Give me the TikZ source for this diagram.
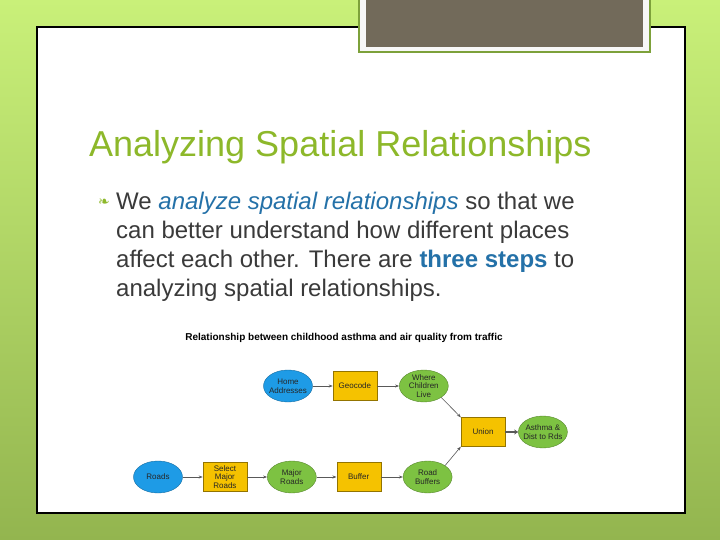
\documentclass[tikz,border=0pt]{standalone}
\usepackage{fontspec}
\setmainfont{Liberation Sans}
\newfontfamily\dejavu{DejaVu Sans}
\usepackage{tikz}
\usetikzlibrary{arrows.meta, positioning, shapes.geometric}
\definecolor{slidegreen}{HTML}{8DB82A}
\definecolor{slideblue}{HTML}{2471A8}
\definecolor{slidetext}{HTML}{3A3A3A}
\definecolor{boxgray}{HTML}{726A5A}
\definecolor{boxrim}{HTML}{7DA13A}
\definecolor{bgtop}{HTML}{C9F079}
\definecolor{bgbot}{HTML}{93B54F}
\definecolor{flowblue}{HTML}{1E9BE6}
\definecolor{flowyellow}{HTML}{F5C200}
\definecolor{flowgreen}{HTML}{7DC242}

\begin{document}
\begin{tikzpicture}[x=1pt, y=-1pt,
  node distance=20pt,
  every node/.style={font=\fontsize{8}{8.6}\selectfont, text=black!85},
  inbox/.style={ellipse, draw=#1!70!black, fill=#1, minimum width=49pt,
              minimum height=32pt, inner sep=-2.5pt, align=center},
  toolbox/.style={rectangle, draw=flowyellow!60!black, fill=flowyellow,
              minimum width=44pt, minimum height=29pt, inner sep=0pt, align=center},
  flow/.style={-{Stealth[length=4pt, width=3pt]}, draw=black!65, line width=0.6pt},
]
  \useasboundingbox (0,0) rectangle (720,540);
  \shade[top color=bgtop, bottom color=bgbot] (0,0) rectangle (720,540);

  % slide panel and the gray picture box on top
  \draw[fill=white, line width=1.2pt] (37,27) rectangle (685,513);
  \draw[boxrim, fill=black!3, line width=2pt] (359,-3) rectangle (650,52);
  \fill[boxgray] (366,-3) rectangle (643,47);

  \node[anchor=base west, inner sep=0pt, text=slidegreen,
        font=\fontsize{36}{40}\selectfont] (title) at (89,157)
    {Analyzing Spatial Relationships};
  \node[text=slidegreen, font=\dejavu\fontsize{14}{14}\selectfont] (bul) at (104,203) {❧};
  \node[anchor=north west, inner sep=0pt, align=left, text=slidetext,
        font=\fontsize{24}{29}\selectfont] (body) at (116,192)
    {We \textcolor{slideblue}{\itshape analyze spatial relationships} so that we\\
     can better understand how different places\\
     affect each other. There are \textcolor{slideblue}{\bfseries three steps} to\\
     analyzing spatial relationships.};

  \node[font=\bfseries\fontsize{10}{11}\selectfont, text=black] (cap) at (344,338)
    {Relationship between childhood asthma and air quality from traffic};

  % top row
  \node[inbox=flowblue] (home) at (288,386) {Home\\Addresses};
  \node[toolbox, right=20pt of home] (geo) {Geocode};
  \node[inbox=flowgreen, right=22pt of geo] (live) {Where\\Children\\Live};

  % join
  \node[toolbox] (union) at (483,432) {Union};
  \node[inbox=flowgreen, right=13pt of union] (asth) {Asthma \&\\Dist to Rds};

  % bottom row
  \node[inbox=flowblue] (roads) at (158,477) {Roads};
  \node[toolbox, right=20pt of roads] (sel) {Select\\Major\\Roads};
  \node[inbox=flowgreen, right=20pt of sel] (major) {Major\\Roads};
  \node[toolbox, right=20pt of major] (buf) {Buffer};
  \node[inbox=flowgreen, right=22pt of buf] (rbuf) {Road\\Buffers};

  \draw[flow] (home) -- (geo);
  \draw[flow] (geo) -- (live);
  \draw[flow] (live.south east) -- (union.north west);
  \draw[flow] (roads) -- (sel);
  \draw[flow] (sel) -- (major);
  \draw[flow] (major) -- (buf);
  \draw[flow] (buf) -- (rbuf);
  \draw[flow] (rbuf.north east) -- (union.south west);
  \draw[flow, line width=1.6pt, -{Stealth[length=4pt, width=5pt]}] (union) -- (asth);
\end{tikzpicture}
\end{document}
